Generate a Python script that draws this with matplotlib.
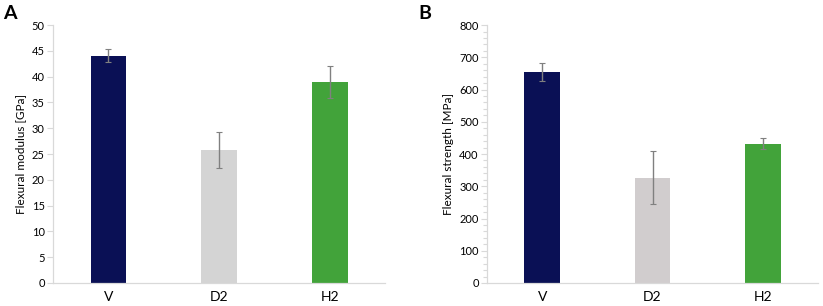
import numpy as np
import matplotlib.pyplot as plt
from matplotlib.ticker import MultipleLocator

plt.rcParams['font.family'] = ['Lato', 'DejaVu Sans']

categories = ["V", "D2", "H2"]
modulus = [44.1, 25.7, 38.9]
modulus_err = [1.3, 3.5, 3.1]
strength = [655, 327, 432]
strength_err = [27, 83, 17]
colors_a = ["#0a1055", "#d4d4d4", "#42a33a"]
colors_b = ["#0a1055", "#d1cdce", "#42a33a"]

fig = plt.figure(figsize=(8.23, 3.06), dpi=100)
ax1 = fig.add_axes([0.0644, 0.0752, 0.4036, 0.8428])
ax2 = fig.add_axes([0.5917, 0.0752, 0.4023, 0.8428])

x = np.arange(len(categories))


def style(ax, ylabel, ymax, step, minor=None):
    ax.set_xlim(-0.5, 2.5)
    ax.set_ylim(0, ymax)
    ax.yaxis.set_major_locator(MultipleLocator(step))
    if minor:
        ax.yaxis.set_minor_locator(MultipleLocator(minor))
        ax.tick_params(axis="y", which="minor", length=3, color="#d9d9d9", width=0.8)
    ax.set_xticks(x)
    ax.set_xticklabels(categories, fontsize=10)
    ax.tick_params(axis="x", length=0, pad=6)
    ax.tick_params(axis="y", which="major", length=4, color="#d9d9d9", width=0.8,
                   labelsize=8, pad=2)
    for s in ["top", "right"]:
        ax.spines[s].set_visible(False)
    for s in ["left", "bottom"]:
        ax.spines[s].set_color("#d9d9d9")
        ax.spines[s].set_linewidth(0.9)
    ax.set_ylabel(ylabel, fontsize=8.5, labelpad=4)


ax1.bar(x, modulus, width=0.32, color=colors_a, zorder=2)
ax1.errorbar(x, modulus, yerr=modulus_err, fmt="none", ecolor="#808080",
             elinewidth=1, capsize=2, capthick=0.8, zorder=3)
style(ax1, "Flexural modulus [GPa]", 50, 5)

ax2.bar(x, strength, width=0.32, color=colors_b, zorder=2)
ax2.errorbar(x, strength, yerr=strength_err, fmt="none", ecolor="#808080",
             elinewidth=1, capsize=2, capthick=0.8, zorder=3)
style(ax2, "Flexural strength [MPa]", 800, 100, minor=20)

fig.text(0.004, 0.985, "A", fontsize=14, fontweight="bold", va="top", ha="left")
fig.text(0.508, 0.985, "B", fontsize=14, fontweight="bold", va="top", ha="left")

fig.savefig("out.png", dpi=100)
